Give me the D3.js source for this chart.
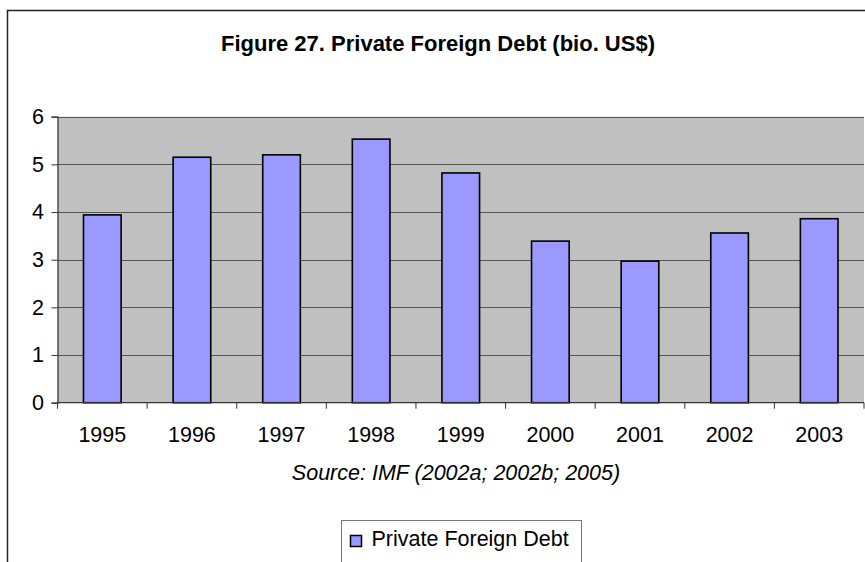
<!DOCTYPE html>
<html>
<head>
<meta charset="utf-8">
<script src="https://cdn.jsdelivr.net/npm/d3@7"></script>
<style>
  html, body { margin: 0; padding: 0; background: #fff; }
  svg { display: block; }
  text { font-family: "Liberation Sans", Arial, sans-serif; fill: #000; }
</style>
</head>
<body>
<svg id="chart" width="865" height="562"></svg>
<script>
// Private foreign debt, billions of US$
const years = ["1995", "1996", "1997", "1998", "1999", "2000", "2001", "2002", "2003"];
const debt = [3.94, 5.15, 5.20, 5.53, 4.82, 3.39, 2.97, 3.56, 3.86];
const yTicks = [0, 1, 2, 3, 4, 5, 6];
const titleText = "Figure 27. Private Foreign Debt (bio. US$)";
const sourceText = "Source: IMF (2002a; 2002b; 2005)";
const seriesName = "Private Foreign Debt";

const FONT = 21.5;
const svg = d3.select("#chart");
const plot = { left: 57.5, right: 864, top: 116.7, bottom: 402.7 };

// outer chart frame (runs past the bottom/right edge)
svg.append("rect")
  .attr("x", 7.5).attr("y", 10.5)
  .attr("width", 900).attr("height", 600)
  .attr("fill", "#fff").attr("stroke", "#222").attr("stroke-width", 1.5);

svg.append("text")
  .attr("x", 438).attr("y", 50.5)
  .attr("text-anchor", "middle")
  .attr("font-size", 22).attr("font-weight", "bold")
  .text(titleText);

const x = d3.scaleBand().domain(years).range([plot.left, plot.right]).paddingInner(0.58).paddingOuter(0.29);
const xb = d3.scaleBand().domain(years).range([plot.left, plot.right]);
const y = d3.scaleLinear().domain([0, 6]).range([plot.bottom, plot.top]);

// plot background
svg.append("rect")
  .attr("x", plot.left).attr("y", plot.top)
  .attr("width", plot.right - plot.left).attr("height", plot.bottom - plot.top)
  .attr("fill", "#c0c0c0");

// gridlines
svg.append("g").selectAll("line").data(yTicks.filter(d => d > 0)).join("line")
  .attr("x1", plot.left).attr("x2", plot.right)
  .attr("y1", d => Math.round(y(d)) + 0.5).attr("y2", d => Math.round(y(d)) + 0.5)
  .attr("stroke", "#555").attr("stroke-width", 1.2);

// bars
svg.append("g").selectAll("rect").data(debt).join("rect")
  .attr("x", (d, i) => x(years[i]))
  .attr("y", d => y(d))
  .attr("width", x.bandwidth())
  .attr("height", d => y(0) - y(d))
  .attr("fill", "#9999ff").attr("stroke", "#000").attr("stroke-width", 1.6);

// y axis
const yAxis = svg.append("g").attr("transform", `translate(${plot.left},0)`)
  .call(d3.axisLeft(y).tickValues(yTicks).tickFormat(d3.format("d")).tickSize(6).tickPadding(7.5));
yAxis.select(".domain").attr("stroke", "#333").attr("stroke-width", 1.2);
yAxis.selectAll(".tick line").attr("stroke", "#333");
yAxis.selectAll("text").attr("font-size", FONT).attr("font-family", "Liberation Sans, Arial, sans-serif");

// x axis with ticks at category boundaries
const xAxisG = svg.append("g").attr("transform", `translate(0,${plot.bottom})`);
xAxisG.append("line").attr("x1", plot.left).attr("x2", plot.right)
  .attr("stroke", "#333").attr("stroke-width", 1.2);
xAxisG.selectAll("line.tk").data(years.concat(["end"])).join("line").attr("class", "tk")
  .attr("x1", (d, i) => i < years.length ? xb(d) : plot.right)
  .attr("x2", (d, i) => i < years.length ? xb(d) : plot.right)
  .attr("y1", 0).attr("y2", 6).attr("stroke", "#333");
xAxisG.selectAll("text").data(years).join("text")
  .attr("x", d => xb(d) + xb.bandwidth() / 2)
  .attr("y", 39)
  .attr("text-anchor", "middle").attr("font-size", FONT)
  .text(d => d);

// source note
svg.append("text")
  .attr("x", 456).attr("y", 480)
  .attr("text-anchor", "middle").attr("font-size", FONT).attr("font-style", "italic")
  .text(sourceText);

// legend
const lg = svg.append("g");
lg.append("rect").attr("x", 341.5).attr("y", 520.5).attr("width", 240).attr("height", 60)
  .attr("fill", "#fff").attr("stroke", "#777").attr("stroke-width", 1);
lg.append("rect").attr("x", 350.5).attr("y", 535.5).attr("width", 11).attr("height", 11)
  .attr("fill", "#9999ff").attr("stroke", "#000").attr("stroke-width", 1.5);
lg.append("text").attr("x", 371.5).attr("y", 546).attr("font-size", FONT).text(seriesName);
</script>
</body>
</html>
